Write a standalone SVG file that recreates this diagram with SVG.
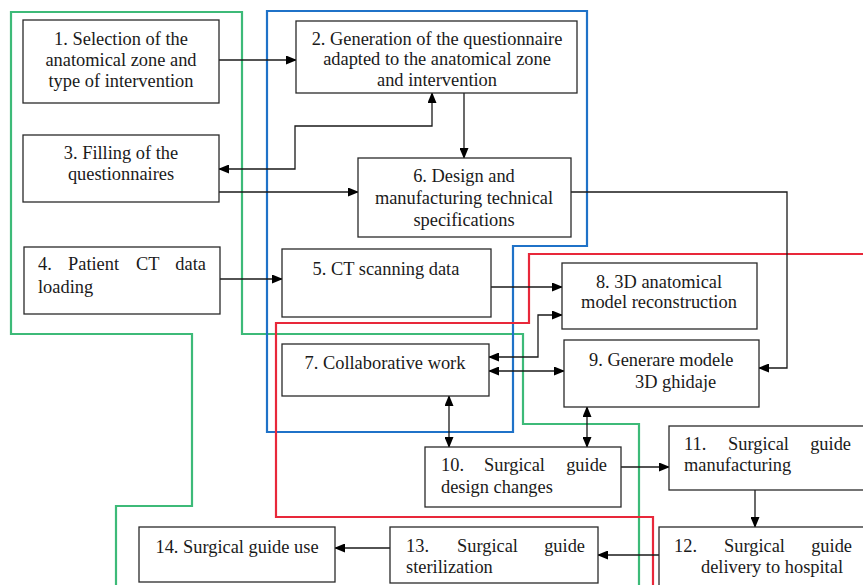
<svg xmlns="http://www.w3.org/2000/svg" width="863" height="585" viewBox="0 0 863 585">
<style>
.box{fill:#fff;stroke:#2a2a2a;stroke-width:1.3}
.t{font-family:"Liberation Serif","Times New Roman",serif;font-size:18.4px;fill:#1a1a1a}
.c{text-anchor:middle}
.con{fill:none;stroke:#1a1a1a;stroke-width:1.3}
.g{fill:none;stroke:#3dba78;stroke-width:2.2}
.b{fill:none;stroke:#1f72c8;stroke-width:2.2}
.r{fill:none;stroke:#e8283a;stroke-width:2.2}
</style>
<defs>
<marker id="ah" markerWidth="11" markerHeight="9" refX="10" refY="4.5" orient="auto-start-reverse" markerUnits="userSpaceOnUse">
<path d="M0,0 L11,4.5 L0,9 Z" fill="#000"/>
</marker>
</defs>
<g id="regions">
<path class="g" d="M116,585 V506 H192 V334 H11 V12 H242 V334 H523 V424 H639 V585"/>
<path class="b" d="M267,11 H587 V246 H513 V432 H267 Z"/>
<path class="r" d="M870,254 H529 V323 H276 V517 H653 V585"/>
</g>
<g id="connectors">
<path class="con" d="M219,60 H296" marker-end="url(#ah)"/>
<path class="con" d="M464,93 V158" marker-end="url(#ah)"/>
<path class="con" d="M219,169 H295 V126 H432 V93" marker-start="url(#ah)" marker-end="url(#ah)"/>
<path class="con" d="M219,192 H358" marker-end="url(#ah)"/>
<path class="con" d="M220,279 H282" marker-end="url(#ah)"/>
<path class="con" d="M491,287 H562" marker-end="url(#ah)"/>
<path class="con" d="M489,357 H538 V315 H562" marker-start="url(#ah)" marker-end="url(#ah)"/>
<path class="con" d="M489,371 H564" marker-start="url(#ah)" marker-end="url(#ah)"/>
<path class="con" d="M571,192 H787 V368 H759" marker-end="url(#ah)"/>
<path class="con" d="M449,396 V447" marker-start="url(#ah)" marker-end="url(#ah)"/>
<path class="con" d="M587,407 V447" marker-start="url(#ah)" marker-end="url(#ah)"/>
<path class="con" d="M621,467 H669" marker-end="url(#ah)"/>
<path class="con" d="M755,490 V527" marker-end="url(#ah)"/>
<path class="con" d="M659,555 H598" marker-end="url(#ah)"/>
<path class="con" d="M390,548 H335" marker-end="url(#ah)"/>
</g>
<g id="n1"><rect class="box" x="23" y="20" width="196" height="83"/>
<text class="t c" x="121" y="45">1. Selection of the</text>
<text class="t c" x="121" y="66">anatomical zone and</text>
<text class="t c" x="121" y="87">type of intervention</text></g>
<g id="n2"><rect class="box" x="296" y="21" width="281" height="72"/>
<text class="t c" x="437" y="45">2. Generation of the questionnaire</text>
<text class="t c" x="437" y="65">adapted to the anatomical zone</text>
<text class="t c" x="437" y="86">and intervention</text></g>
<g id="n3"><rect class="box" x="23" y="135" width="196" height="67"/>
<text class="t c" x="121" y="159">3. Filling of the</text>
<text class="t c" x="121" y="180">questionnaires</text></g>
<g id="n6"><rect class="box" x="358" y="158" width="213" height="79"/>
<text class="t c" x="464" y="182">6. Design and</text>
<text class="t c" x="464" y="204">manufacturing technical</text>
<text class="t c" x="464" y="226">specifications</text></g>
<g id="n4"><rect class="box" x="24" y="247" width="196" height="67"/>
<text class="t" y="270"><tspan x="38">4.</tspan><tspan x="68">Patient</tspan><tspan x="136">CT</tspan><tspan x="206" text-anchor="end">data</tspan></text>
<text class="t" x="38" y="293">loading</text></g>
<g id="n5"><rect class="box" x="282" y="249" width="209" height="68"/>
<text class="t c" x="386" y="275">5. CT scanning data</text></g>
<g id="n8"><rect class="box" x="562" y="263" width="195" height="66"/>
<text class="t c" x="659" y="288">8. 3D anatomical</text>
<text class="t c" x="659" y="308">model reconstruction</text></g>
<g id="n7"><rect class="box" x="282" y="344" width="207" height="52"/>
<text class="t c" x="385" y="369">7. Collaborative work</text></g>
<g id="n9"><rect class="box" x="564" y="340" width="195" height="67"/>
<text class="t" x="589" y="366">9. Generare modele</text>
<text class="t" x="635" y="388">3D ghidaje</text></g>
<g id="n10"><rect class="box" x="425" y="447" width="196" height="60"/>
<text class="t" y="471"><tspan x="441">10.</tspan><tspan x="484">Surgical</tspan><tspan x="607" text-anchor="end">guide</tspan></text>
<text class="t" x="441" y="493">design changes</text></g>
<g id="n11"><rect class="box" x="669" y="426" width="200" height="64"/>
<text class="t" y="450"><tspan x="684">11.</tspan><tspan x="728">Surgical</tspan><tspan x="851" text-anchor="end">guide</tspan></text>
<text class="t" x="684" y="471">manufacturing</text></g>
<g id="n12"><rect class="box" x="659" y="527" width="210" height="64"/>
<text class="t" y="552"><tspan x="674">12.</tspan><tspan x="724">Surgical</tspan><tspan x="852" text-anchor="end">guide</tspan></text>
<text class="t" x="701" y="573">delivery to hospital</text></g>
<g id="n13"><rect class="box" x="390" y="527" width="208" height="56"/>
<text class="t" y="552"><tspan x="406">13.</tspan><tspan x="457">Surgical</tspan><tspan x="585" text-anchor="end">guide</tspan></text>
<text class="t" x="406" y="573">sterilization</text></g>
<g id="n14"><rect class="box" x="139" y="527" width="196" height="55"/>
<text class="t c" x="237" y="553">14. Surgical guide use</text></g>
</svg>
